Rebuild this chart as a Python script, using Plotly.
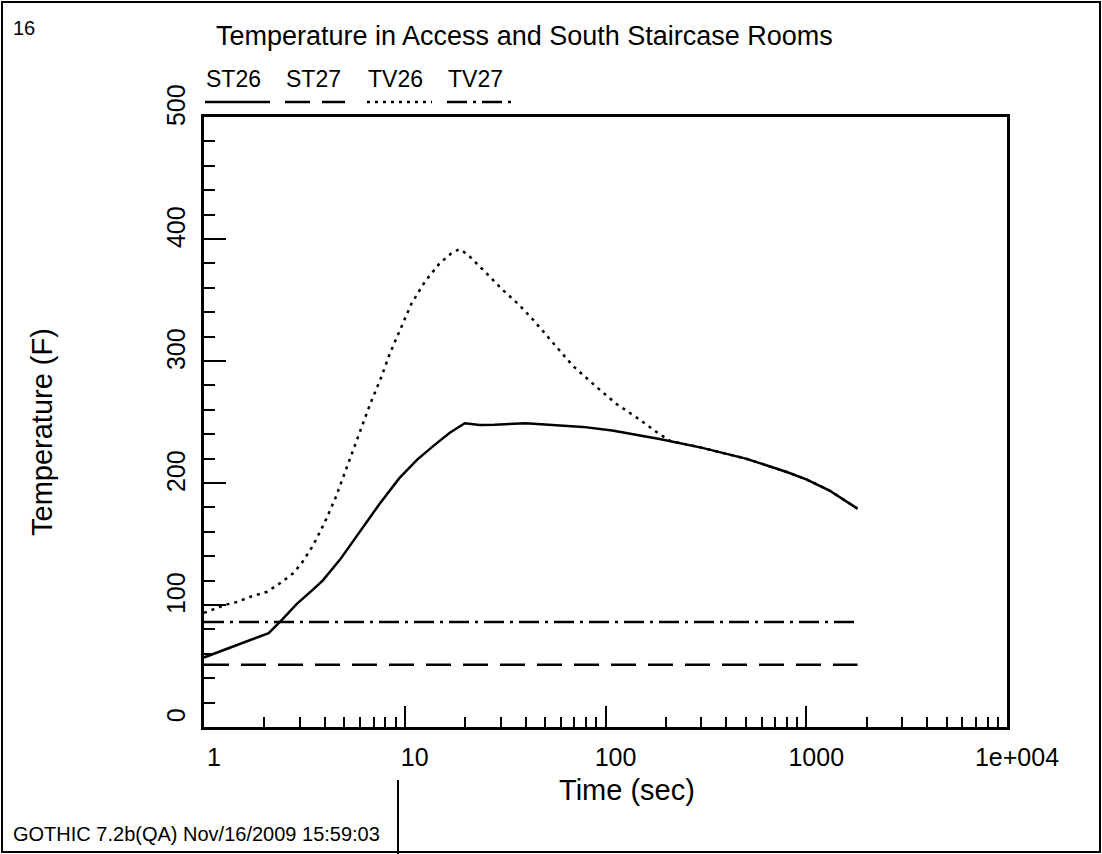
import plotly.graph_objects as go

# ---------------- data ----------------
time_st26 = [1, 2.1, 2.45, 2.9, 3.4, 3.9, 4.75, 6.0, 7.5, 9.4, 11.5, 13.8, 16.7, 19.9,
             23.6, 28, 40, 77, 108, 186, 300, 500, 800, 1000, 1300, 1800]
st26 = [57, 77, 88, 101, 111, 120, 137, 160, 183, 204, 219, 230, 241, 249,
        247.5, 247.7, 249, 246, 243, 236, 229, 220, 209, 203, 194, 179]

time_tv26 = [1, 1.27, 1.46, 1.69, 2.06, 2.4, 2.78, 3.06, 3.5, 4.0, 4.5, 5.2, 5.86, 6.7,
             7.65, 8.42, 9.44, 10.8, 12.6, 14.9, 17, 18.6, 19.5, 21.1, 25.5, 30.9, 36.6,
             43.5, 54.7, 68.8, 89.8, 113, 148, 182, 210, 300, 500, 800, 1000, 1300, 1800]
tv26 = [93.5, 100, 102.5, 106.6, 110.8, 118, 126, 134, 149, 168, 187, 214, 238, 264,
        287, 306, 325, 347, 365, 380, 388, 391.5, 390, 385.5, 372, 358, 347,
        334, 315, 296, 279, 265, 252, 241, 234.5, 229, 220, 209, 203, 194, 179]

time_const = [1, 1800]
st27 = [51, 51]
tv27 = [86, 86]

series_names = ["ST26", "ST27", "TV26", "TV27"]
x_tickvals = [1, 10, 100, 1000, 10000]
x_ticktext = ["1", "10", "100", "1000", "1e+004"]
y_tickvals = [0, 100, 200, 300, 400, 500]
y_ticktext = ["0", "100", "200", "300", "400", "500"]

title_text = "Temperature in Access and South Staircase Rooms"
x_title = "Time (sec)"
y_title = "Temperature (F)"
footer_text = "GOTHIC 7.2b(QA) Nov/16/2009 15:59:03"
page_no = "16"

# ---------------- layout geometry (pixels) ----------------
W, H = 1102, 854
L, R, T, B = 204, 1007, 117, 727
FONT = "Liberation Sans, Arial, sans-serif"


def px(xp):
    return (xp - L) / (R - L)


def py(yp):
    return (B - yp) / (B - T)


styles = {
    "ST26": dict(color="black", width=2.5, dash="solid"),
    "ST27": dict(color="black", width=2.5, dash="25px,12px"),
    "TV26": dict(color="black", width=2.5, dash="3px,5px"),
    "TV27": dict(color="black", width=2.5, dash="20px,6px,3px,6px"),
}

fig = go.Figure()
fig.add_trace(go.Scatter(x=time_st26, y=st26, mode="lines", name="ST26", line=styles["ST26"]))
fig.add_trace(go.Scatter(x=time_const, y=st27, mode="lines", name="ST27", line=styles["ST27"]))
fig.add_trace(go.Scatter(x=time_tv26, y=tv26, mode="lines", name="TV26", line=styles["TV26"]))
fig.add_trace(go.Scatter(x=time_const, y=tv27, mode="lines", name="TV27", line=styles["TV27"]))

annotations = []
shapes = []


def note(text, xp, yp, size, xanchor="left", angle=0):
    annotations.append(dict(text=text, x=px(xp), y=py(yp), xref="paper", yref="paper",
                            xanchor=xanchor, yanchor="middle", textangle=angle,
                            showarrow=False, borderpad=0,
                            font=dict(size=size, family=FONT, color="black")))


# page number, title
note(page_no, 12, 28, 20)
note(title_text, 524, 36, 27, xanchor="center")

# custom legend: label above a line sample
leg_x0 = [205, 285, 367, 447]
leg_x1 = [270, 345, 432, 514]
for name, x0, x1 in zip(series_names, leg_x0, leg_x1):
    note(name, x0, 79, 23)
    st = styles[name]
    shapes.append(dict(type="line", xref="paper", yref="paper", x0=px(x0), x1=px(x1),
                       y0=py(102), y1=py(102),
                       line=dict(color="black", width=st["width"], dash=st["dash"])))

# axis titles
note(x_title, 627, 790, 29, xanchor="center")
note(y_title, 42, 432, 29, xanchor="center", angle=-90)

# footer
note(footer_text, 12, 834, 20)

# outer frame and footer divider
shapes.append(dict(type="rect", xref="paper", yref="paper", x0=px(2), x1=px(1100),
                   y0=py(852), y1=py(2), line=dict(color="black", width=2)))
shapes.append(dict(type="line", xref="paper", yref="paper", x0=px(398), x1=px(398),
                   y0=py(780), y1=py(854), line=dict(color="black", width=2)))

fig.update_layout(
    width=W, height=H,
    margin=dict(l=L, r=W - R, t=T, b=H - B),
    paper_bgcolor="white", plot_bgcolor="white",
    showlegend=False,
    annotations=annotations,
    shapes=shapes,
    font=dict(family=FONT, color="black"),
)

fig.update_xaxes(
    type="log", range=[0, 4],
    showline=True, linecolor="black", linewidth=2.5, mirror=True,
    showgrid=False, zeroline=False,
    ticks="inside", ticklen=21, tickwidth=2, tickcolor="black",
    tickvals=x_tickvals, ticktext=x_ticktext,
    tickfont=dict(size=25, family=FONT, color="black"),
    ticklabelshift=10, ticklabelstandoff=6,
    minor=dict(ticks="inside", ticklen=10, tickwidth=2, tickcolor="black",
               dtick="D1", showgrid=False),
)
fig.update_yaxes(
    range=[0, 500],
    showline=True, linecolor="black", linewidth=2.5, mirror=True,
    showgrid=False, zeroline=False,
    ticks="inside", ticklen=22, tickwidth=2, tickcolor="black",
    tickvals=y_tickvals, ticktext=y_ticktext, tickangle=-90,
    tickfont=dict(size=25, family=FONT, color="black"),
    ticklabelstandoff=6, ticklabelshift=-8,
    minor=dict(ticks="inside", ticklen=11, tickwidth=2, tickcolor="black",
               dtick=20, showgrid=False),
)

fig.write_html("out.html")
